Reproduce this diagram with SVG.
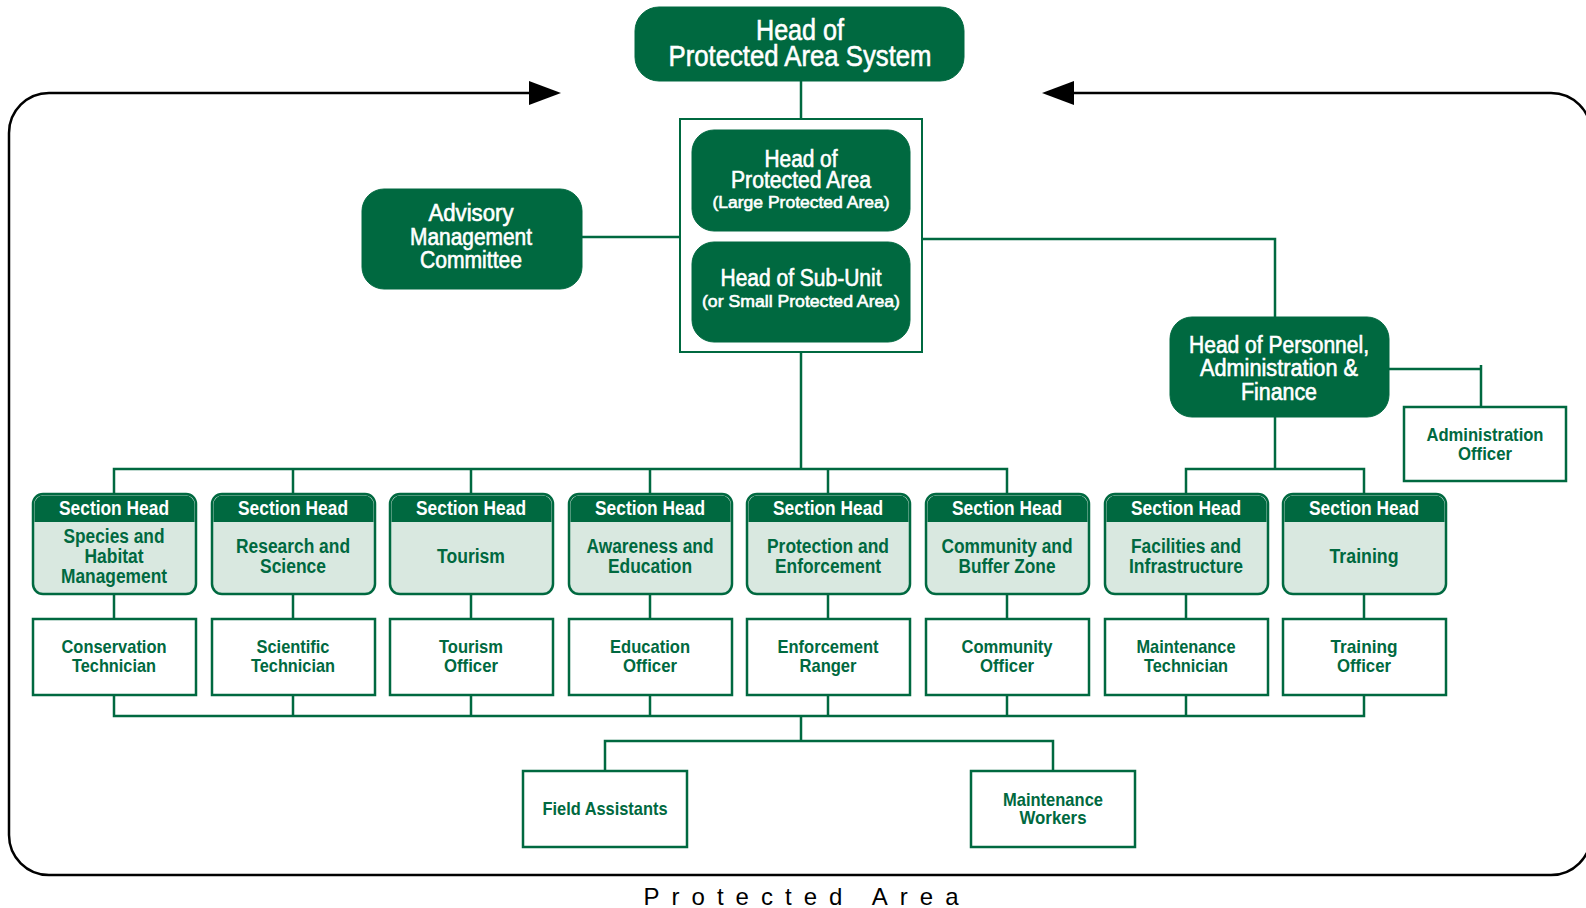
<svg xmlns="http://www.w3.org/2000/svg" width="1586" height="908" viewBox="0 0 1586 908">
<style>
text{font-family:"Liberation Sans",Arial,sans-serif;text-anchor:middle}
.dk{fill:#006940;stroke:#006940}
.wt{fill:#fff;stroke:#fff;stroke-width:0.6}
.big{font-size:30px}
.md{font-size:23px}
.sm{font-size:17px}
.sh{fill:#d9e8e0;stroke:#006940;stroke-width:2.5}
.hd{fill:#006940}
.sht{fill:#fff;font-size:20px;font-weight:bold}
.sb{fill:#006940;font-size:20px;font-weight:bold}
.of{fill:#fff;stroke:#006940;stroke-width:2.5}
.oft{fill:#006940;font-size:19px;font-weight:bold}
.cn{fill:none;stroke:#006940;stroke-width:2.5}
</style>
<g id="border">
<path d="M529,93 H49 A40,40 0 0 0 9,133 V835 A40,40 0 0 0 49,875 H1551 A40,40 0 0 0 1591,835 V133 A40,40 0 0 0 1551,93 H1074" fill="none" stroke="#000" stroke-width="2.5"/>
<path d="M1042,93 L1074,81 L1074,105 Z" fill="#000"/>
<path d="M561,93 L529,81 L529,105 Z" fill="#000"/>
<text x="801" y="905" font-size="24" textLength="315" lengthAdjust="spacing" fill="#000">Protected Area</text>
</g>
<g id="connectors">
<path class="cn" d="M801,81 V119"/>
<path class="cn" d="M582,237 H680"/>
<path class="cn" d="M922,239 H1275 V317"/>
<path class="cn" d="M1389,369 H1481 V407 M1481,365 V369"/>
<path class="cn" d="M801,352 V469"/>
<path class="cn" d="M114,494 V469 H1007 V494"/>
<path class="cn" d="M293,469 V494 M471,469 V494 M650,469 V494 M828,469 V494"/>
<path class="cn" d="M1275,417 V469"/>
<path class="cn" d="M1186,494 V469 H1364 V494"/>
<path class="cn" d="M114,594 V619 M293,594 V619 M471,594 V619 M650,594 V619 M828,594 V619 M1007,594 V619 M1186,594 V619 M1364,594 V619"/>
<path class="cn" d="M114,695 V716 H1364 V695 M293,695 V716 M471,695 V716 M650,695 V716 M828,695 V716 M1007,695 V716 M1186,695 V716"/>
<path class="cn" d="M801,716 V741 M605,771 V741 H1053 V771"/>
</g>
<g id="head-system">
<rect class="dk" x="635" y="7" width="329" height="74" rx="24"/>
<text class="wt big" x="800" y="40" textLength="88" lengthAdjust="spacingAndGlyphs">Head of</text>
<text class="wt big" x="800" y="66" textLength="263" lengthAdjust="spacingAndGlyphs">Protected Area System</text>
</g>
<g id="container">
<rect x="680" y="119" width="242" height="233" fill="none" stroke="#006940" stroke-width="2"/>
</g>
<g id="head-pa">
<rect class="dk" x="692" y="130" width="218" height="101" rx="22"/>
<text class="wt md" x="801" y="167" textLength="73" lengthAdjust="spacingAndGlyphs">Head of</text>
<text class="wt md" x="801" y="188" textLength="140" lengthAdjust="spacingAndGlyphs">Protected Area</text>
<text class="wt sm" x="801" y="208" textLength="177" lengthAdjust="spacingAndGlyphs">(Large Protected Area)</text>
</g>
<g id="head-subunit">
<rect class="dk" x="692" y="242" width="218" height="100" rx="22"/>
<text class="wt md" x="801" y="286" textLength="161" lengthAdjust="spacingAndGlyphs">Head of Sub-Unit</text>
<text class="wt sm" x="801" y="307" textLength="198" lengthAdjust="spacingAndGlyphs">(or Small Protected Area)</text>
</g>
<g id="amc">
<rect class="dk" x="362" y="189" width="220" height="100" rx="22"/>
<text class="wt md" x="471" y="221" textLength="85" lengthAdjust="spacingAndGlyphs">Advisory</text>
<text class="wt md" x="471" y="245" textLength="122" lengthAdjust="spacingAndGlyphs">Management</text>
<text class="wt md" x="471" y="268" textLength="102" lengthAdjust="spacingAndGlyphs">Committee</text>
</g>
<g id="hpaf">
<rect class="dk" x="1170" y="317" width="219" height="100" rx="22"/>
<text class="wt md" x="1279" y="353" textLength="180" lengthAdjust="spacingAndGlyphs">Head of Personnel,</text>
<text class="wt md" x="1279" y="376" textLength="158" lengthAdjust="spacingAndGlyphs">Administration &amp;</text>
<text class="wt md" x="1279" y="400" textLength="76" lengthAdjust="spacingAndGlyphs">Finance</text>
</g>
<g id="admin-officer">
<rect class="of" x="1404" y="407" width="162" height="74"/>
<text class="oft" x="1485" y="441" textLength="117" lengthAdjust="spacingAndGlyphs">Administration</text>
<text class="oft" x="1485" y="460" textLength="54" lengthAdjust="spacingAndGlyphs">Officer</text>
</g>
<g id="sh1">
<rect class="sh" x="33" y="494" width="163" height="100" rx="10"/>
<path class="hd" d="M34.5,522 V504 A9,9 0 0 1 43.5,495.5 H185.5 A9,9 0 0 1 194.5,504 V522 Z"/>
<text class="sht" x="114" y="515" textLength="110" lengthAdjust="spacingAndGlyphs">Section Head</text>
<text class="sb" x="114" y="543" textLength="101" lengthAdjust="spacingAndGlyphs">Species and</text>
<text class="sb" x="114" y="563" textLength="59" lengthAdjust="spacingAndGlyphs">Habitat</text>
<text class="sb" x="114" y="583" textLength="106" lengthAdjust="spacingAndGlyphs">Management</text>
</g>
<g id="sh2">
<rect class="sh" x="212" y="494" width="163" height="100" rx="10"/>
<path class="hd" d="M213.5,522 V504 A9,9 0 0 1 222.5,495.5 H364.5 A9,9 0 0 1 373.5,504 V522 Z"/>
<text class="sht" x="293" y="515" textLength="110" lengthAdjust="spacingAndGlyphs">Section Head</text>
<text class="sb" x="293" y="553" textLength="114" lengthAdjust="spacingAndGlyphs">Research and</text>
<text class="sb" x="293" y="573" textLength="66" lengthAdjust="spacingAndGlyphs">Science</text>
</g>
<g id="sh3">
<rect class="sh" x="390" y="494" width="163" height="100" rx="10"/>
<path class="hd" d="M391.5,522 V504 A9,9 0 0 1 400.5,495.5 H542.5 A9,9 0 0 1 551.5,504 V522 Z"/>
<text class="sht" x="471" y="515" textLength="110" lengthAdjust="spacingAndGlyphs">Section Head</text>
<text class="sb" x="471" y="563" textLength="68" lengthAdjust="spacingAndGlyphs">Tourism</text>
</g>
<g id="sh4">
<rect class="sh" x="569" y="494" width="163" height="100" rx="10"/>
<path class="hd" d="M570.5,522 V504 A9,9 0 0 1 579.5,495.5 H721.5 A9,9 0 0 1 730.5,504 V522 Z"/>
<text class="sht" x="650" y="515" textLength="110" lengthAdjust="spacingAndGlyphs">Section Head</text>
<text class="sb" x="650" y="553" textLength="127" lengthAdjust="spacingAndGlyphs">Awareness and</text>
<text class="sb" x="650" y="573" textLength="84" lengthAdjust="spacingAndGlyphs">Education</text>
</g>
<g id="sh5">
<rect class="sh" x="747" y="494" width="163" height="100" rx="10"/>
<path class="hd" d="M748.5,522 V504 A9,9 0 0 1 757.5,495.5 H899.5 A9,9 0 0 1 908.5,504 V522 Z"/>
<text class="sht" x="828" y="515" textLength="110" lengthAdjust="spacingAndGlyphs">Section Head</text>
<text class="sb" x="828" y="553" textLength="122" lengthAdjust="spacingAndGlyphs">Protection and</text>
<text class="sb" x="828" y="573" textLength="106" lengthAdjust="spacingAndGlyphs">Enforcement</text>
</g>
<g id="sh6">
<rect class="sh" x="926" y="494" width="163" height="100" rx="10"/>
<path class="hd" d="M927.5,522 V504 A9,9 0 0 1 936.5,495.5 H1078.5 A9,9 0 0 1 1087.5,504 V522 Z"/>
<text class="sht" x="1007" y="515" textLength="110" lengthAdjust="spacingAndGlyphs">Section Head</text>
<text class="sb" x="1007" y="553" textLength="131" lengthAdjust="spacingAndGlyphs">Community and</text>
<text class="sb" x="1007" y="573" textLength="97" lengthAdjust="spacingAndGlyphs">Buffer Zone</text>
</g>
<g id="sh7">
<rect class="sh" x="1105" y="494" width="163" height="100" rx="10"/>
<path class="hd" d="M1106.5,522 V504 A9,9 0 0 1 1115.5,495.5 H1257.5 A9,9 0 0 1 1266.5,504 V522 Z"/>
<text class="sht" x="1186" y="515" textLength="110" lengthAdjust="spacingAndGlyphs">Section Head</text>
<text class="sb" x="1186" y="553" textLength="110" lengthAdjust="spacingAndGlyphs">Facilities and</text>
<text class="sb" x="1186" y="573" textLength="114" lengthAdjust="spacingAndGlyphs">Infrastructure</text>
</g>
<g id="sh8">
<rect class="sh" x="1283" y="494" width="163" height="100" rx="10"/>
<path class="hd" d="M1284.5,522 V504 A9,9 0 0 1 1293.5,495.5 H1435.5 A9,9 0 0 1 1444.5,504 V522 Z"/>
<text class="sht" x="1364" y="515" textLength="110" lengthAdjust="spacingAndGlyphs">Section Head</text>
<text class="sb" x="1364" y="563" textLength="69" lengthAdjust="spacingAndGlyphs">Training</text>
</g>
<g id="of1"><rect class="of" x="33" y="619" width="163" height="76"/><text class="oft" x="114" y="653" textLength="105" lengthAdjust="spacingAndGlyphs">Conservation</text><text class="oft" x="114" y="672" textLength="84" lengthAdjust="spacingAndGlyphs">Technician</text></g>
<g id="of2"><rect class="of" x="212" y="619" width="163" height="76"/><text class="oft" x="293" y="653" textLength="73" lengthAdjust="spacingAndGlyphs">Scientific</text><text class="oft" x="293" y="672" textLength="84" lengthAdjust="spacingAndGlyphs">Technician</text></g>
<g id="of3"><rect class="of" x="390" y="619" width="163" height="76"/><text class="oft" x="471" y="653" textLength="64" lengthAdjust="spacingAndGlyphs">Tourism</text><text class="oft" x="471" y="672" textLength="54" lengthAdjust="spacingAndGlyphs">Officer</text></g>
<g id="of4"><rect class="of" x="569" y="619" width="163" height="76"/><text class="oft" x="650" y="653" textLength="80" lengthAdjust="spacingAndGlyphs">Education</text><text class="oft" x="650" y="672" textLength="54" lengthAdjust="spacingAndGlyphs">Officer</text></g>
<g id="of5"><rect class="of" x="747" y="619" width="163" height="76"/><text class="oft" x="828" y="653" textLength="101" lengthAdjust="spacingAndGlyphs">Enforcement</text><text class="oft" x="828" y="672" textLength="57" lengthAdjust="spacingAndGlyphs">Ranger</text></g>
<g id="of6"><rect class="of" x="926" y="619" width="163" height="76"/><text class="oft" x="1007" y="653" textLength="91" lengthAdjust="spacingAndGlyphs">Community</text><text class="oft" x="1007" y="672" textLength="54" lengthAdjust="spacingAndGlyphs">Officer</text></g>
<g id="of7"><rect class="of" x="1105" y="619" width="163" height="76"/><text class="oft" x="1186" y="653" textLength="99" lengthAdjust="spacingAndGlyphs">Maintenance</text><text class="oft" x="1186" y="672" textLength="84" lengthAdjust="spacingAndGlyphs">Technician</text></g>
<g id="of8"><rect class="of" x="1283" y="619" width="163" height="76"/><text class="oft" x="1364" y="653" textLength="67" lengthAdjust="spacingAndGlyphs">Training</text><text class="oft" x="1364" y="672" textLength="54" lengthAdjust="spacingAndGlyphs">Officer</text></g>
<g id="field-assistants"><rect class="of" x="523" y="771" width="164" height="76"/><text class="oft" x="605" y="815" textLength="125" lengthAdjust="spacingAndGlyphs">Field Assistants</text></g>
<g id="maintenance-workers"><rect class="of" x="971" y="771" width="164" height="76"/><text class="oft" x="1053" y="806" textLength="100" lengthAdjust="spacingAndGlyphs">Maintenance</text><text class="oft" x="1053" y="824" textLength="67" lengthAdjust="spacingAndGlyphs">Workers</text></g>
</svg>
